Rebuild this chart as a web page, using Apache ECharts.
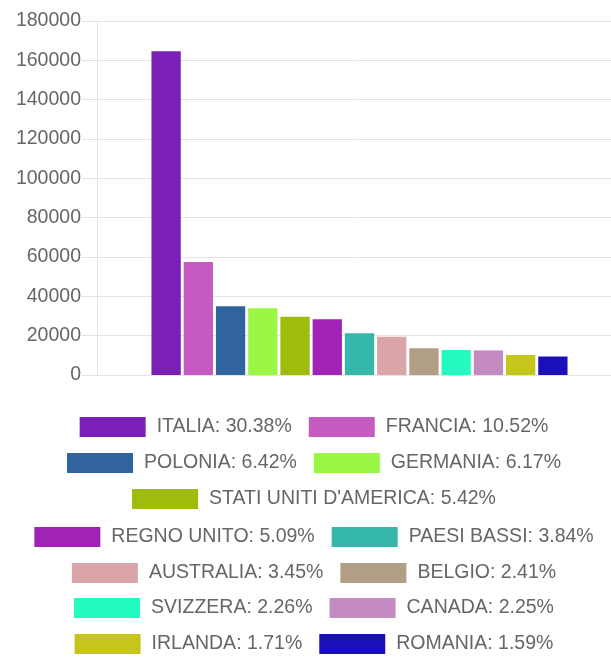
<!DOCTYPE html>
<html>
<head>
<meta charset="utf-8">
<script src="https://cdn.jsdelivr.net/npm/echarts@6/dist/echarts.min.js"></script>
<style>
  html, body { margin: 0; padding: 0; overflow: hidden; background: #fff; }
  #main { width: 628px; height: 658px; }
</style>
</head>
<body>
<div id="main"></div>
<script>
var countries = ["ITALIA", "FRANCIA", "POLONIA", "GERMANIA", "STATI UNITI D'AMERICA",
  "REGNO UNITO", "PAESI BASSI", "AUSTRALIA", "BELGIO", "SVIZZERA", "CANADA", "IRLANDA", "ROMANIA"];
var values = [164600, 57400, 35000, 34000, 29600, 28300, 21200, 19500, 13600, 12700, 12500, 10200, 9400];
var shares = ["30.38", "10.52", "6.42", "6.17", "5.42", "5.09", "3.84", "3.45", "2.41", "2.26", "2.25", "1.71", "1.59"];
var colors = ["#7b20b6", "#c55bc0", "#31639e", "#9af745", "#9fbb0c", "#a123b5", "#35b7aa",
  "#d9a5a8", "#b19e84", "#24fbc0", "#c48bc2", "#c5c51b", "#1b0fba"];
// legend rows as in the original
var legendRows = [[0, 1], [2, 3], [4], [5, 6], [7, 8], [9, 10], [11, 12]];
var rowCenters = [427, 463, 499, 537, 573, 608, 644];

var chartDom = document.getElementById("main");
var myChart = echarts.init(chartDom);
var font = "'Liberation Sans', Arial, sans-serif";
var gridColor = "#e3e3e3";

var series = countries.map(function (name, i) {
  return {
    name: name,
    type: "bar",
    barWidth: 29.3,
    barGap: "10%",
    itemStyle: { color: colors[i] },
    data: [values[i]]
  };
});

var legends = legendRows.map(function (row, r) {
  return {
    left: "center",
    top: rowCenters[r] - 10,
    padding: 0,
    itemWidth: 66,
    itemHeight: 20,
    itemGap: 17,
    icon: "rect",
    selectedMode: false,
    data: row.map(function (i) { return countries[i]; }),
    formatter: function (name) {
      return name + ": " + shares[countries.indexOf(name)] + "%";
    },
    textStyle: { color: "#666", fontSize: 19.5, fontFamily: font, padding: [0, 0, 0, 6] }
  };
});

var option = {
  animation: false,
  grid: { left: 97, right: 6, top: 21, bottom: 283 },
  legend: legends,
  xAxis: {
    type: "category",
    data: [""],
    axisLine: { show: true, lineStyle: { color: gridColor } },
    axisTick: { show: false },
    axisLabel: { show: false },
    splitLine: { show: false }
  },
  yAxis: {
    type: "value",
    min: 0,
    max: 180000,
    interval: 20000,
    axisLine: { show: true, lineStyle: { color: gridColor } },
    axisTick: { show: true, length: 15, lineStyle: { color: gridColor } },
    axisLabel: {
      color: "#666", fontSize: 19.5, fontFamily: font, margin: 16,
      formatter: function (v) { return String(v); }
    },
    splitLine: { lineStyle: { color: gridColor } }
  },
  series: series
};

option && myChart.setOption(option);
</script>
</body>
</html>
